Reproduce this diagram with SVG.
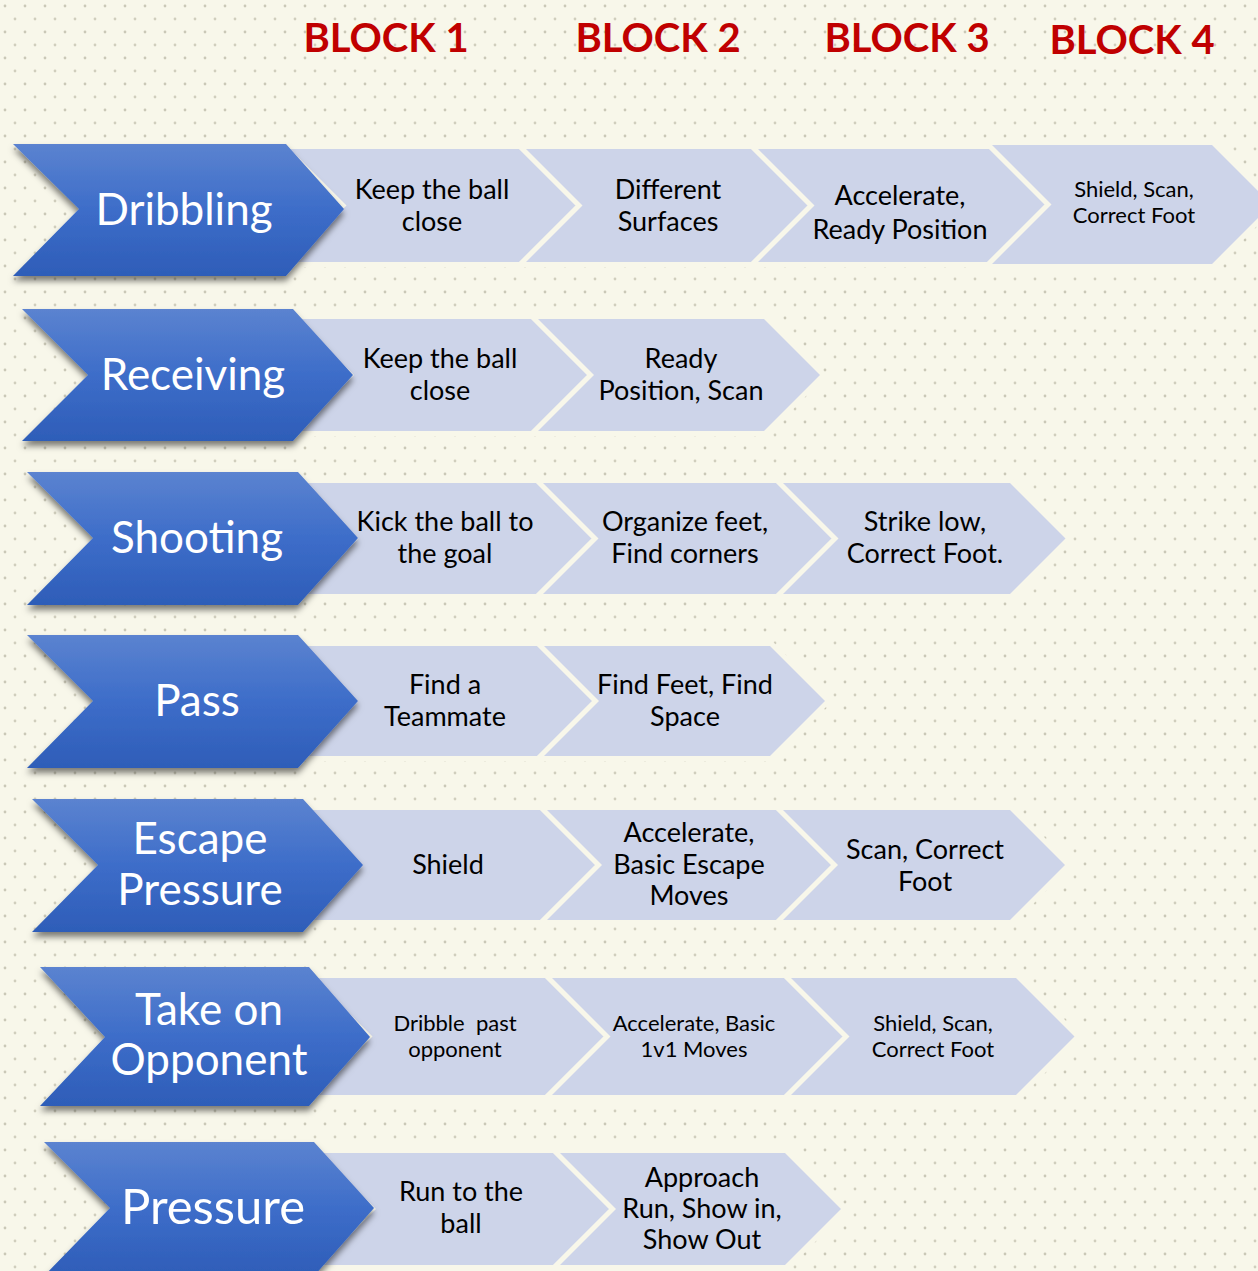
<svg xmlns="http://www.w3.org/2000/svg" width="1258" height="1271" viewBox="0 0 1258 1271">
<defs>
<pattern id="dots" width="20" height="26" patternUnits="userSpaceOnUse">
<circle cx="5" cy="6" r="1.4" fill="#cac8b7"/>
<circle cx="15" cy="19" r="1.4" fill="#d0cebd"/>
</pattern>
<linearGradient id="bg" x1="0" y1="0" x2="0" y2="1">
<stop offset="0" stop-color="#5b83d0"/>
<stop offset="0.5" stop-color="#3d6dc9"/>
<stop offset="1" stop-color="#2e5db8"/>
</linearGradient>
<filter id="sh" x="-10%" y="-15%" width="125%" height="140%">
<feDropShadow dx="0" dy="5" stdDeviation="3" flood-color="#000" flood-opacity="0.5"/>
</filter>
</defs>
<style>
.blue{fill:url(#bg);filter:url(#sh)}
.lite{fill:#cdd4e9;stroke:#f8f7ea;stroke-width:10;paint-order:stroke fill;stroke-linejoin:miter}
.bt{font-family:Lato,"Liberation Sans",sans-serif;fill:#fff;font-size:44px;text-anchor:middle}
.lt{font-family:Lato,"Liberation Sans",sans-serif;fill:#000;font-size:27px;text-anchor:middle;white-space:pre}
.st{font-size:22px}
.hd{font-family:Lato,"Liberation Sans",sans-serif;font-weight:bold;fill:#c00000;font-size:40px;text-anchor:middle}
</style>
<rect width="1258" height="1271" fill="#f8f7ea"/>
<rect width="1258" height="1271" fill="url(#dots)"/>

<g id="headers">
<text class="hd" x="386" y="52">BLOCK 1</text>
<text class="hd" x="658" y="52">BLOCK 2</text>
<text class="hd" x="907" y="52">BLOCK 3</text>
<text class="hd" x="1132" y="54">BLOCK 4</text>
</g>

<g id="connectors"/>

<!-- Row 1 -->
<g id="dribbling-b1"><path class="lite" d="M290,149 H526 L582.5,205.5 L526,262 H290 L346.5,205.5 Z"/>
<text class="lt" x="432" y="199">Keep the ball</text><text class="lt" x="432" y="231">close</text></g>
<g id="dribbling-b2"><path class="lite" d="M526,149 H758 L814.5,205.5 L758,262 H526 L582.5,205.5 Z"/>
<text class="lt" x="668" y="199">Different</text><text class="lt" x="668" y="231">Surfaces</text></g>
<g id="dribbling-b3"><path class="lite" d="M758,149 H992 L1048.5,205.5 L992,262 H758 L814.5,205.5 Z"/>
<text class="lt" x="900" y="205">Accelerate,</text><text class="lt" x="900" y="239">Ready Position</text></g>
<g id="dribbling-b4"><path class="lite" d="M992,145 H1212 L1271.5,204.5 L1212,264 H992 L1051.5,204.5 Z"/>
<text class="lt st" x="1134" y="197">Shield, Scan,</text><text class="lt st" x="1134" y="223">Correct Foot</text></g>
<g id="dribbling"><path class="blue" d="M13,144 H286 L344,209 L286,276 H13 L79,209 Z"/>
<text class="bt" x="184" y="225">Dribbling</text></g>

<!-- Row 2 -->
<g id="receiving-b1"><path class="lite" d="M298,319 H538 L594,375 L538,431 H298 L354,375 Z"/>
<text class="lt" x="440" y="368">Keep the ball</text><text class="lt" x="440" y="400">close</text></g>
<g id="receiving-b2"><path class="lite" d="M538,319 H764 L820,375 L764,431 H538 L594,375 Z"/>
<text class="lt" x="681" y="368">Ready</text><text class="lt" x="681" y="400">Position, Scan</text></g>
<g id="receiving"><path class="blue" d="M22,309 H293 L353,375 L293,441 H22 L88,375 Z"/>
<text class="bt" x="193" y="390">Receiving</text></g>

<!-- Row 3 -->
<g id="shooting-b1"><path class="lite" d="M303,483 H543 L598.5,538.5 L543,594 H303 L358.5,538.5 Z"/>
<text class="lt" x="445" y="531">Kick the ball to</text><text class="lt" x="445" y="563">the goal</text></g>
<g id="shooting-b2"><path class="lite" d="M543,483 H783 L838.5,538.5 L783,594 H543 L598.5,538.5 Z"/>
<text class="lt" x="685" y="531">Organize feet,</text><text class="lt" x="685" y="563">Find corners</text></g>
<g id="shooting-b3"><path class="lite" d="M783,483 H1010 L1065.5,538.5 L1010,594 H783 L838.5,538.5 Z"/>
<text class="lt" x="925" y="531">Strike low,</text><text class="lt" x="925" y="563">Correct Foot.</text></g>
<g id="shooting"><path class="blue" d="M27,472 H298 L358,538 L298,605 H27 L93,538 Z"/>
<text class="bt" x="197" y="553">Shooting</text></g>

<!-- Row 4 -->
<g id="pass-b1"><path class="lite" d="M303,646 H544 L599,701 L544,756 H303 L358,701 Z"/>
<text class="lt" x="445" y="694">Find a</text><text class="lt" x="445" y="726">Teammate</text></g>
<g id="pass-b2"><path class="lite" d="M544,646 H770 L825,701 L770,756 H544 L599,701 Z"/>
<text class="lt" x="685" y="694">Find Feet, Find</text><text class="lt" x="685" y="726">Space</text></g>
<g id="pass"><path class="blue" d="M27,635 H298 L358,701 L298,768 H27 L93,701 Z"/>
<text class="bt" x="197" y="716">Pass</text></g>

<!-- Row 5 -->
<g id="escape-b1"><path class="lite" d="M307,810 H547 L602,865 L547,920 H307 L362,865 Z"/>
<text class="lt" x="448" y="874">Shield</text></g>
<g id="escape-b2"><path class="lite" d="M547,810 H783 L838,865 L783,920 H547 L602,865 Z"/>
<text class="lt" x="689" y="842">Accelerate,</text><text class="lt" x="689" y="874">Basic Escape</text><text class="lt" x="689" y="905">Moves</text></g>
<g id="escape-b3"><path class="lite" d="M783,810 H1010 L1065,865 L1010,920 H783 L838,865 Z"/>
<text class="lt" x="925" y="859">Scan, Correct</text><text class="lt" x="925" y="891">Foot</text></g>
<g id="escape"><path class="blue" d="M32,799 H303 L363,865 L303,932 H32 L98,865 Z"/>
<text class="bt" x="200" y="854">Escape</text><text class="bt" x="200" y="905">Pressure</text></g>

<!-- Row 6 -->
<g id="takeon-b1"><path class="lite" d="M314,978 H552 L610.5,1036.5 L552,1095 H314 L372.5,1036.5 Z"/>
<text class="lt st" x="455" y="1031">Dribble  past</text><text class="lt st" x="455" y="1057">opponent</text></g>
<g id="takeon-b2"><path class="lite" d="M552,978 H791 L849.5,1036.5 L791,1095 H552 L610.5,1036.5 Z"/>
<text class="lt st" x="694" y="1031">Accelerate, Basic</text><text class="lt st" x="694" y="1057">1v1 Moves</text></g>
<g id="takeon-b3"><path class="lite" d="M791,978 H1016 L1074.5,1036.5 L1016,1095 H791 L849.5,1036.5 Z"/>
<text class="lt st" x="933" y="1031">Shield, Scan,</text><text class="lt st" x="933" y="1057">Correct Foot</text></g>
<g id="takeon"><path class="blue" d="M40,967 H309 L370,1037 L309,1106 H40 L105,1037 Z"/>
<text class="bt" x="209" y="1025">Take on</text><text class="bt" x="209" y="1075">Opponent</text></g>

<!-- Row 7 -->
<g id="pressure-b1"><path class="lite" d="M320,1153 H560 L616,1209 L560,1265 H320 L376,1209 Z"/>
<text class="lt" x="461" y="1201">Run to the</text><text class="lt" x="461" y="1233">ball</text></g>
<g id="pressure-b2"><path class="lite" d="M560,1153 H785 L841,1209 L785,1265 H560 L616,1209 Z"/>
<text class="lt" x="702" y="1187">Approach</text><text class="lt" x="702" y="1218">Run, Show in,</text><text class="lt" x="702" y="1249">Show Out</text></g>
<g id="pressure"><path class="blue" d="M44,1142 H314 L374,1208 L314,1276 H44 L110,1208 Z"/>
<text class="bt" x="213" y="1224" style="font-size:49px">Pressure</text></g>
</svg>
